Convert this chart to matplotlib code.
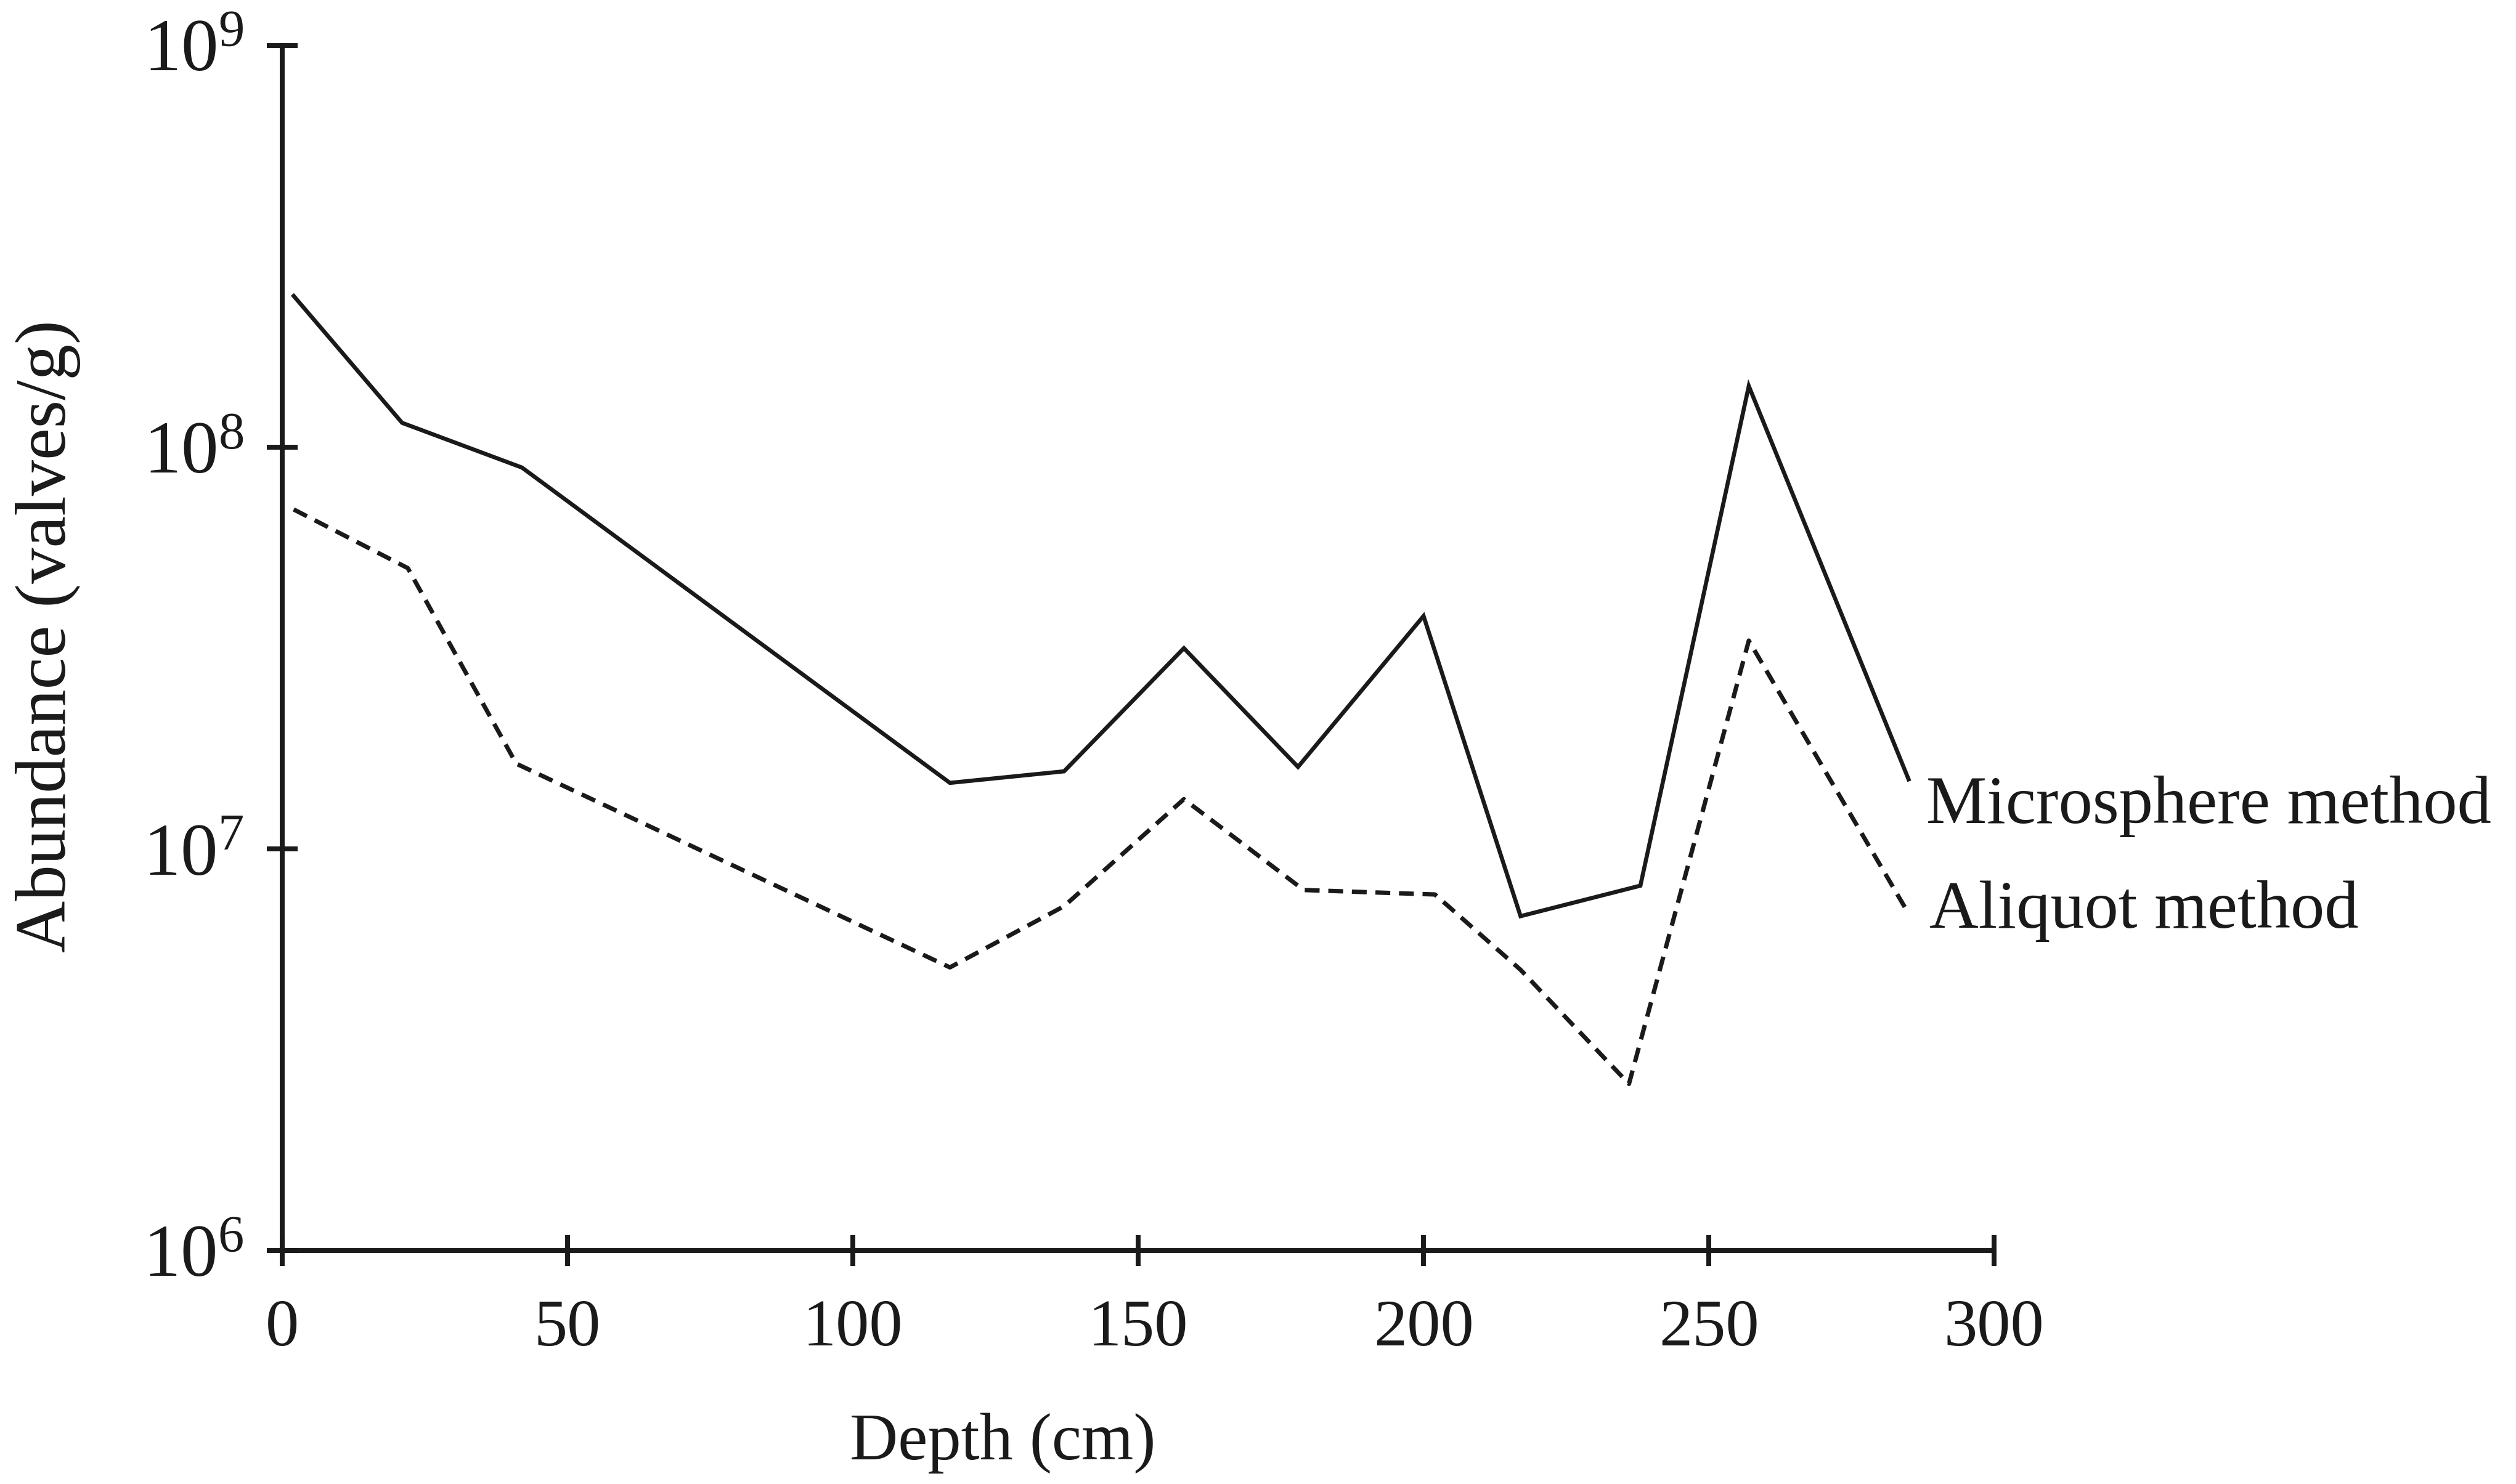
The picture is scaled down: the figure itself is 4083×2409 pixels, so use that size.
import matplotlib
matplotlib.use('Agg')
import matplotlib.pyplot as plt
import matplotlib.ticker as mticker

# serif text to match the scanned figure
plt.rcParams['font.family'] = ['Liberation Serif', 'DejaVu Serif']
plt.rcParams['mathtext.fontset'] = 'custom'
plt.rcParams['mathtext.rm'] = 'Liberation Serif'
plt.rcParams['mathtext.it'] = 'Liberation Serif:italic'

# data (depth in cm, abundance in valves/g)
micro_depth = [2, 21, 42, 117, 137, 158, 178, 200, 217, 238, 257, 285]
micro_value = [2.38e8, 1.15e8, 8.9e7, 1.46e7, 1.56e7, 3.16e7, 1.6e7, 3.8e7, 6.8e6, 8.1e6, 1.42e8, 1.49e7]

aliq_depth = [2, 22, 41, 117, 137, 158, 179, 202, 217, 236, 257, 285]
aliq_value = [7.0e7, 5.0e7, 1.63e7, 5.07e6, 7.2e6, 1.33e7, 7.9e6, 7.7e6, 5.0e6, 2.6e6, 3.3e7, 6.9e6]

xticks = [0, 50, 100, 150, 200, 250, 300]
yticks = [1e6, 1e7, 1e8, 1e9]
ytick_labels = ['$\\mathrm{10}^{\\mathrm{6}}$', '$\\mathrm{10}^{\\mathrm{7}}$',
                '$\\mathrm{10}^{\\mathrm{8}}$', '$\\mathrm{10}^{\\mathrm{9}}$']

ink = '#1a1a1a'

fig = plt.figure(figsize=(4083 / 300, 2409 / 300), dpi=300)
ax = fig.add_axes([0.1122, 0.1573, 0.6804, 0.812])

ax.plot(micro_depth, micro_value, color=ink, linewidth=1.6, solid_joinstyle='miter')
ax.plot(aliq_depth, aliq_value, color=ink, linewidth=1.7, linestyle=(0, (3.4, 2.0)))

ax.set_yscale('log')
ax.set_xlim(0, 300)
ax.set_ylim(1e6, 1e9)

ax.set_xticks(xticks)
ax.set_yticks(yticks)
ax.set_yticklabels(ytick_labels)
ax.yaxis.set_minor_locator(mticker.NullLocator())

for side in ['top', 'right']:
    ax.spines[side].set_visible(False)
for side in ['left', 'bottom']:
    ax.spines[side].set_linewidth(1.9)
    ax.spines[side].set_color(ink)

ax.tick_params(axis='both', direction='inout', length=12, width=1.9, colors=ink, labelcolor=ink)
ax.tick_params(axis='x', pad=13, labelsize=26)
ax.tick_params(axis='y', pad=9, labelsize=29)

ax.set_xlabel('Depth (cm)', fontsize=26, color=ink, va='center')
ax.xaxis.set_label_coords(0.421, -0.16)
ax.set_ylabel('Abundance (valves/g)', fontsize=28, color=ink, va='center')
ax.yaxis.set_label_coords(-0.137, 0.51)

# series labels next to the line ends
ax.annotate('Microsphere method', xy=(micro_depth[-1], micro_value[-1]), xytext=(7, -17),
            textcoords='offset points', ha='left', va='baseline', fontsize=26.5, color=ink,
            annotation_clip=False)
ax.annotate('Aliquot method', xy=(aliq_depth[-1], aliq_value[-1]), xytext=(8, -5.5),
            textcoords='offset points', ha='left', va='baseline', fontsize=26.5, color=ink,
            annotation_clip=False)

fig.savefig('out.png', dpi=300, facecolor='white')
